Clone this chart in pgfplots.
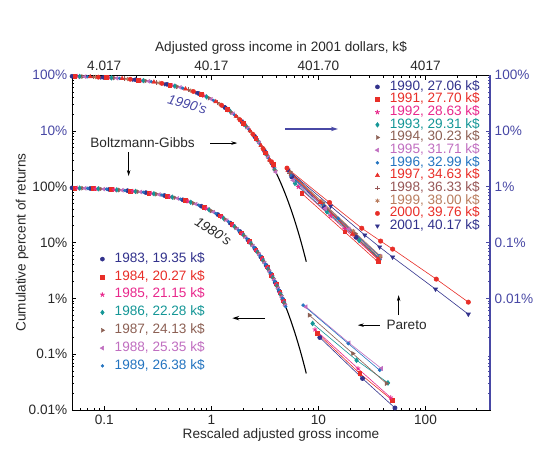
\documentclass[border=0pt]{standalone}
\usepackage{fontspec}
\setmainfont{Liberation Sans}
\usepackage{pgfplots}
\pgfplotsset{compat=1.18}
\usetikzlibrary{arrows.meta}
\definecolor{axblue}{RGB}{72,72,165}
\definecolor{cnavy}{RGB}{50,50,140}
\definecolor{cred}{RGB}{232,46,40}
\definecolor{cmag}{RGB}{232,40,140}
\definecolor{cteal}{RGB}{20,150,150}
\definecolor{cbrown}{RGB}{140,96,84}
\definecolor{corchid}{RGB}{192,110,192}
\definecolor{cblue}{RGB}{36,116,192}
\definecolor{cbrownb}{RGB}{150,86,86}
\definecolor{ctan}{RGB}{185,125,95}
\definecolor{ctext}{RGB}{40,40,40}
\pgfplotsset{
  s1990/.style={color=cnavy, mark=*, mark size=2.1pt},
  s1991/.style={color=cred, mark=square*, mark size=1.9pt},
  s1992/.style={color=cmag, mark=star, mark size=2.4pt, mark options={line width=0.9pt}},
  s1993/.style={color=cteal, mark=diamond*, mark size=2.4pt},
  s1994/.style={color=cbrown, mark=triangle*, mark size=2.3pt, mark options={rotate=-90}},
  s1995/.style={color=corchid, mark=triangle*, mark size=2.3pt, mark options={rotate=90}},
  s1996/.style={color=cblue, mark=*, mark size=1.5pt},
  s1997/.style={color=cred, mark=triangle*, mark size=2.4pt},
  s1998/.style={color=cbrownb, mark=+, mark size=2.4pt, mark options={line width=0.9pt}},
  s1999/.style={color=ctan, mark=asterisk, mark size=2.2pt, mark options={line width=0.8pt}},
  s2000/.style={color=cred, mark=*, mark size=2.2pt},
  s2001/.style={color=cnavy, mark=triangle*, mark size=2.3pt, mark options={rotate=180}},
  bgpts/.style={only marks, forget plot},
  tailpts/.style={line width=0.6pt, forget plot},
}
\begin{document}
\fontsize{13.6}{16}\selectfont
\begin{tikzpicture}
\useasboundingbox (0,0) rectangle (537pt,448pt);
% ---------------- lower axis: 1980s ----------------
\begin{axis}[
  at={(72pt,38pt)}, anchor=south west,
  width=418pt, height=335pt, scale only axis,
  xmode=log, ymode=log,
  xmin=0.05, xmax=400, ymin=1e-4, ymax=100,
  tick align=inside,
  major tick length=4.5pt, minor tick length=2.5pt,
  xtick={0.1,1,10,100},
  minor xtick={0.06,0.07,0.08,0.09,0.2,0.3,0.4,0.5,0.6,0.7,0.8,0.9,2,3,4,5,6,7,8,9,20,30,40,50,60,70,80,90,200,300},
  minor ytick={2e-4,3e-4,4e-4,5e-4,6e-4,7e-4,8e-4,9e-4,2e-3,3e-3,4e-3,5e-3,6e-3,7e-3,8e-3,9e-3,0.02,0.03,0.04,0.05,0.06,0.07,0.08,0.09,0.2,0.3,0.4,0.5,0.6,0.7,0.8,0.9,2,3,4,5,6,7,8,9,20,30,40,50,60,70,80,90},
  legend cell align=left,
  tick pos=left,
  axis line style={line width=0.9pt},
  xticklabels={0.1,1,10,100},
  ytick={1e-4,1e-3,1e-2,0.1,1,10,100},
  yticklabels={0.01\%,0.1\%,1\%,10\%,100\%,\textcolor{axblue}{10\%},\textcolor{axblue}{100\%}},
  ticklabel style={ctext},
  tick style={black, line width=0.6pt},
  xlabel={Rescaled adjusted gross income},
  ylabel={Cumulative percent of returns},
  xlabel style={ctext, at={(axis description cs:0.5,-0.075)}, anchor=center},
  ylabel style={ctext, at={(axis description cs:-0.1196,0.5)}, anchor=center},
  legend style={draw=none, fill=none, at={(0.0668,0.47)}, anchor=north west,
    inner sep=0pt, row sep=5.15pt, column sep=9pt, nodes={inner sep=1pt, text height=8.6pt, text depth=2.05pt}},
]
\addlegendimage{s1990, only marks}\addlegendentry{\textcolor{cnavy}{1983, 19.35 k\$}}
\addlegendimage{s1991, only marks}\addlegendentry{\textcolor{cred}{1984, 20.27 k\$}}
\addlegendimage{s1992, only marks}\addlegendentry{\textcolor{cmag}{1985, 21.15 k\$}}
\addlegendimage{s1993, only marks}\addlegendentry{\textcolor{cteal}{1986, 22.28 k\$}}
\addlegendimage{s1994, only marks}\addlegendentry{\textcolor{cbrown}{1987, 24.13 k\$}}
\addlegendimage{s1995, only marks}\addlegendentry{\textcolor{corchid}{1988, 25.35 k\$}}
\addlegendimage{s1996, only marks}\addlegendentry{\textcolor{cblue}{1989, 26.38 k\$}}
% Boltzmann-Gibbs part
\addplot[s1990, bgpts] coordinates {(0.05,0.9512)(0.074,0.9287)(0.111,0.8949)(0.165,0.8479)(0.245,0.7827)(0.365,0.6942)(0.542,0.5816)(0.806,0.4466)(1.15,0.3166)(1.5,0.2231)(1.85,0.1572)(2.2,0.1108)(2.55,0.07808)(2.9,0.05502)(3.25,0.03877)(3.6,0.02732)(3.95,0.01925)(4.3,0.01357)(4.65,0.009562)};
\addplot[s1991, bgpts] coordinates {(0.053,0.9484)(0.079,0.9240)(0.117,0.8896)(0.175,0.8395)(0.26,0.7711)(0.386,0.6798)(0.574,0.5633)(0.853,0.4261)(1.2,0.3012)(1.55,0.2122)(1.9,0.1496)(2.25,0.1054)(2.6,0.07427)(2.95,0.05234)(3.3,0.03688)(3.65,0.02599)(4.0,0.01832)(4.35,0.01291)(4.7,0.009095)};
\addplot[s1992, bgpts] coordinates {(0.056,0.9455)(0.083,0.9204)(0.124,0.8834)(0.185,0.8311)(0.275,0.7596)(0.409,0.6643)(0.607,0.5450)(0.903,0.4054)(1.25,0.2865)(1.6,0.2019)(1.95,0.1423)(2.3,0.1003)(2.65,0.07065)(3.0,0.04979)(3.35,0.03508)(3.7,0.02472)(4.05,0.01742)(4.4,0.01228)(4.75,0.008652)};
\addplot[s1993, bgpts] coordinates {(0.059,0.9427)(0.088,0.9158)(0.131,0.8772)(0.196,0.8220)(0.291,0.7475)(0.432,0.6492)(0.643,0.5257)(0.955,0.3848)(1.3,0.2725)(1.65,0.1920)(2.0,0.1353)(2.35,0.09537)(2.7,0.06721)(3.05,0.04736)(3.4,0.03337)(3.75,0.02352)(4.1,0.01657)(4.45,0.01168)(4.8,0.00823)};
\addplot[s1994, bgpts] coordinates {(0.063,0.9389)(0.093,0.9112)(0.139,0.8702)(0.207,0.8130)(0.308,0.7349)(0.457,0.6332)(0.68,0.5066)(1.0,0.3679)(1.35,0.2592)(1.7,0.1827)(2.05,0.1287)(2.4,0.09072)(2.75,0.06393)(3.1,0.04505)(3.45,0.03175)(3.8,0.02237)(4.15,0.01576)(4.5,0.01111)(4.85,0.007828)};
\addplot[s1995, bgpts] coordinates {(0.066,0.9361)(0.099,0.9057)(0.147,0.8633)(0.219,0.8033)(0.326,0.7218)(0.484,0.6163)(0.72,0.4868)(1.05,0.3499)(1.4,0.2466)(1.75,0.1738)(2.1,0.1225)(2.45,0.08629)(2.8,0.06081)(3.15,0.04285)(3.5,0.03020)(3.85,0.02128)(4.2,0.01500)(4.55,0.01057)(4.9,0.007447)};
\addplot[s1996, bgpts] coordinates {(0.07,0.9324)(0.105,0.9003)(0.156,0.8556)(0.232,0.7929)(0.345,0.7082)(0.512,0.5993)(0.762,0.4667)(1.1,0.3329)(1.45,0.2346)(1.8,0.1653)(2.15,0.1165)(2.5,0.08208)(2.85,0.05784)(3.2,0.04076)(3.55,0.02872)(3.9,0.02024)(4.25,0.01426)(4.6,0.01005)(4.95,0.007083)};
% Pareto tails
\addplot[s1990, tailpts] coordinates {(10.3,1.99e-3)(25.8,3.67e-4)(51.8,1.09e-4)};
\addplot[s1991, tailpts] coordinates {(9.84,2.35e-3)(24.3,4.51e-4)(48.9,1.50e-4)};
\addplot[s1992, tailpts] coordinates {(9.28,2.77e-3)(23.4,5.54e-4)(47.3,1.67e-4)};
\addplot[s1993, tailpts] coordinates {(8.83,3.55e-3)(22.7,7.8e-4)(44.6,3.06e-4)};
\addplot[s1994, tailpts] coordinates {(8.21,5.0e-3)(20.9,1.03e-3)(43.1,2.99e-4)};
\addplot[s1995, tailpts] coordinates {(7.65,7.05e-3)(19.3,1.59e-3)(38.7,5.54e-4)};
\addplot[s1996, tailpts] coordinates {(7.2,7.55e-3)(19.0,1.55e-3)(37.3,5.16e-4)};
% exponential curve
\addplot[black, line width=1.1pt, no marks, forget plot] coordinates {(0.05,0.9512)(0.1,0.9048)(0.15,0.8607)(0.2,0.8187)(0.3,0.7408)(0.4,0.6703)(0.5,0.6065)(0.6,0.5488)(0.7,0.4966)(0.8,0.4493)(0.9,0.4066)(1.0,0.3679)(1.2,0.3012)(1.4,0.2466)(1.6,0.2019)(1.8,0.1653)(2.0,0.1353)(2.25,0.1054)(2.5,0.08208)(2.75,0.06393)(3.0,0.04979)(3.25,0.03877)(3.5,0.03020)(3.75,0.02352)(4.0,0.01832)(4.25,0.01426)(4.5,0.01111)(4.75,0.008652)(5.0,0.006738)(5.25,0.005248)(5.5,0.004087)(5.75,0.003183)(6.0,0.002479)(6.25,0.001930)(6.5,0.001503)(6.75,0.001171)(7.0,0.0009119)(7.25,0.0007102)(7.5,0.0005531)(7.7,0.0004528)};
\end{axis}
% ---------------- upper axis: 1990s ----------------
\begin{axis}[
  at={(72pt,38pt)}, anchor=south west,
  width=418pt, height=335pt, scale only axis,
  xmode=log, ymode=log,
  xmin=0.05, xmax=400, ymin=1e-4, ymax=100,
  tick align=inside,
  major tick length=4.5pt, minor tick length=2.5pt,
  xtick={0.1,1,10,100},
  minor xtick={0.06,0.07,0.08,0.09,0.2,0.3,0.4,0.5,0.6,0.7,0.8,0.9,2,3,4,5,6,7,8,9,20,30,40,50,60,70,80,90,200,300},
  minor ytick={2e-4,3e-4,4e-4,5e-4,6e-4,7e-4,8e-4,9e-4,2e-3,3e-3,4e-3,5e-3,6e-3,7e-3,8e-3,9e-3,0.02,0.03,0.04,0.05,0.06,0.07,0.08,0.09,0.2,0.3,0.4,0.5,0.6,0.7,0.8,0.9,2,3,4,5,6,7,8,9,20,30,40,50,60,70,80,90},
  legend cell align=left,
  axis x line*=top, axis y line*=right,
  x axis line style={-, line width=0.9pt},
  y axis line style={-, axblue, line width=1.1pt},
  xticklabels={4.017,40.17,401.70,4017},
  xticklabel style={ctext},
  ytick={0.01,0.1,1,10,100},
  yticklabels={0.01\%,0.1\%,1\%,10\%,100\%},
  yticklabel style={axblue},
  ytick style={axblue, line width=0.6pt},
  xtick style={black, line width=0.6pt},
  xlabel={Adjusted gross income in 2001 dollars, k\$},
  xlabel style={ctext, at={(axis description cs:0.5,1.081)}, anchor=center},
  legend style={draw=none, fill=none, at={(0.7245,0.984)}, anchor=north west,
    inner sep=0pt, row sep=0pt, column sep=9pt, nodes={inner sep=1pt, text height=8.6pt, text depth=2.05pt}},
]
\addlegendimage{s1990, only marks}\addlegendentry{\textcolor{cnavy}{1990, 27.06 k\$}}
\addlegendimage{s1991, only marks}\addlegendentry{\textcolor{cred}{1991, 27.70 k\$}}
\addlegendimage{s1992, only marks}\addlegendentry{\textcolor{cmag}{1992, 28.63 k\$}}
\addlegendimage{s1993, only marks}\addlegendentry{\textcolor{cteal}{1993, 29.31 k\$}}
\addlegendimage{s1994, only marks}\addlegendentry{\textcolor{cbrown}{1994, 30.23 k\$}}
\addlegendimage{s1995, only marks}\addlegendentry{\textcolor{corchid}{1995, 31.71 k\$}}
\addlegendimage{s1996, only marks}\addlegendentry{\textcolor{cblue}{1996, 32.99 k\$}}
\addlegendimage{s1997, only marks}\addlegendentry{\textcolor{cred}{1997, 34.63 k\$}}
\addlegendimage{s1998, only marks}\addlegendentry{\textcolor{cbrownb}{1998, 36.33 k\$}}
\addlegendimage{s1999, only marks}\addlegendentry{\textcolor{ctan}{1999, 38.00 k\$}}
\addlegendimage{s2000, only marks}\addlegendentry{\textcolor{cred}{2000, 39.76 k\$}}
\addlegendimage{s2001, only marks}\addlegendentry{\textcolor{cnavy}{2001, 40.17 k\$}}
% Boltzmann-Gibbs part (values x100)
\addplot[s1990, bgpts] coordinates {(0.05,95.12)(0.099,90.57)(0.196,82.20)(0.386,67.98)(0.762,46.67)(1.35,25.92)(1.95,14.23)(2.55,7.808)(3.15,4.285)(3.75,2.55)};
\addplot[s1992, bgpts] coordinates {(0.056,94.55)(0.111,89.49)(0.219,80.33)(0.432,64.92)(0.853,42.61)(1.45,23.46)(2.05,12.87)(2.65,7.065)(3.25,3.877)(3.85,2.128)};
\addplot[s1993, bgpts] coordinates {(0.059,94.27)(0.117,88.96)(0.232,79.29)(0.457,63.32)(0.903,40.54)(1.5,22.31)(2.1,12.25)(2.7,6.721)(3.3,3.688)(3.9,2.024)};
\addplot[s1994, bgpts] coordinates {(0.063,93.89)(0.124,88.34)(0.245,78.27)(0.484,61.63)(0.955,38.48)(1.55,21.22)(2.15,11.65)(2.75,6.393)(3.35,3.508)(3.95,1.925)};
\addplot[s1995, bgpts] coordinates {(0.066,93.61)(0.131,87.72)(0.26,77.11)(0.512,59.93)(1.0,36.79)(1.6,20.19)(2.2,11.08)(2.8,6.081)(3.4,3.337)(4.0,1.832)};
\addplot[s1996, bgpts] coordinates {(0.07,93.24)(0.139,87.02)(0.275,75.96)(0.542,58.16)(1.05,34.99)(1.65,19.20)(2.25,10.54)(2.85,5.784)(3.45,3.175)};
\addplot[s1998, bgpts] coordinates {(0.079,92.40)(0.156,85.56)(0.308,73.49)(0.607,54.50)(1.15,31.66)(1.75,17.38)(2.35,9.537)(2.95,5.234)(3.55,2.872)};
\addplot[s1999, bgpts] coordinates {(0.083,92.04)(0.165,84.79)(0.326,72.18)(0.643,52.57)(1.2,30.12)(1.8,16.53)(2.4,9.072)(3.0,4.979)(3.6,2.732)};
\addplot[s2001, bgpts] coordinates {(0.093,91.12)(0.185,83.11)(0.365,69.42)(0.72,48.68)(1.3,27.25)(1.9,14.96)(2.5,8.208)(3.1,4.505)(3.7,2.472)};
\addplot[s1991, bgpts] coordinates {(0.053,94.84)(0.105,90.03)(0.207,81.30)(0.409,66.43)(0.806,44.66)(1.4,24.66)(2.0,13.53)(2.6,7.427)(3.2,4.076)(3.8,2.5)};
\addplot[s1997, bgpts] coordinates {(0.074,92.87)(0.147,86.33)(0.291,74.75)(0.574,56.33)(1.1,33.29)(1.7,18.27)(2.3,10.03)(2.9,5.502)(3.5,3.020)};
\addplot[s2000, bgpts] coordinates {(0.088,91.58)(0.175,83.95)(0.345,70.82)(0.68,50.66)(1.25,28.65)(1.85,15.72)(2.45,8.629)(3.05,4.736)(3.65,2.8)};
% Pareto tails
\addplot[s1990, tailpts] coordinates {(5.63,1.50)(11.3,0.428)(22.5,0.124)(37,0.0506)};
\addplot[s1992, tailpts] coordinates {(6.49,0.99)(13,0.296)(17.6,0.175)(36.5,0.049)};
\addplot[s1993, tailpts] coordinates {(6.04,1.15)(12,0.355)(24,0.109)(37,0.052)};
\addplot[s1994, tailpts] coordinates {(5.43,1.85)(11,0.512)(22,0.145)(37.5,0.055)};
\addplot[s1995, tailpts] coordinates {(5.8,1.3)(11.6,0.408)(19.3,0.174)(38,0.056)};
\addplot[s1996, tailpts] coordinates {(5.5,1.6)(11,0.479)(15.3,0.270)(37,0.058)};
\addplot[s1998, tailpts] coordinates {(5.4,1.75)(10.8,0.497)(21.6,0.141)(37,0.053)};
\addplot[s1999, tailpts] coordinates {(5.3,1.9)(10.6,0.553)(21.2,0.161)(38,0.057)};
\addplot[s1991, tailpts] coordinates {(6.98,0.76)(17.6,0.155)(36,0.045)};
\addplot[s1997, tailpts] coordinates {(5.2,1.95)(10.4,0.525)(20.8,0.141)(36,0.05)};
\addplot[s2001, tailpts] coordinates {(5.2,1.98)(13,0.448)(27.1,0.136)(37.3,0.083)(49.3,0.0547)(124,0.0146)(251,0.0052)};
\addplot[s2000, tailpts] coordinates {(5.09,2.15)(12.7,0.52)(25.4,0.18)(38.1,0.106)(49.3,0.0762)(126,0.0221)(251,0.00855)};
% exponential curve x100
\addplot[black, line width=1.1pt, no marks, forget plot] coordinates {(0.05,95.12)(0.1,90.48)(0.15,86.07)(0.2,81.87)(0.3,74.08)(0.4,67.03)(0.5,60.65)(0.6,54.88)(0.7,49.66)(0.8,44.93)(0.9,40.66)(1.0,36.79)(1.2,30.12)(1.4,24.66)(1.6,20.19)(1.8,16.53)(2.0,13.53)(2.25,10.54)(2.5,8.208)(2.75,6.393)(3.0,4.979)(3.25,3.877)(3.5,3.020)(3.75,2.352)(4.0,1.832)(4.25,1.426)(4.5,1.111)(4.75,0.8652)(5.0,0.6738)(5.25,0.5248)(5.5,0.4087)(5.75,0.3183)(6.0,0.2479)(6.25,0.1930)(6.5,0.1503)(6.75,0.1171)(7.0,0.09119)(7.25,0.07102)(7.5,0.05531)(7.7,0.04528)};
% annotations
\node[font=\itshape, color=axblue, rotate=-16] at (axis cs:0.598,30.2) {1990's};
\node[font=\itshape, color=ctext, rotate=-32] at (axis cs:1.04,0.160) {1980's};
\node[color=ctext] at (axis cs:0.228,6.04) {Boltzmann-Gibbs};
\draw[-{Stealth[length=6pt,width=3.5pt]}, line width=0.6pt] (axis cs:0.98,6.04) -- (axis cs:1.746,6.04);
\draw[-{Stealth[length=6pt,width=3.5pt]}, line width=0.6pt] (axis cs:0.169,4.17) -- (axis cs:0.169,1.55);
\node[color=ctext] at (axis cs:66.6,3.31e-3) {Pareto};
\draw[-{Stealth[length=6pt,width=3.5pt]}, line width=0.6pt] (axis cs:37.3,3.31e-3) -- (axis cs:23.3,3.31e-3);
\draw[-{Stealth[length=6pt,width=3.5pt]}, line width=0.6pt] (axis cs:56.1,5.0e-3) -- (axis cs:56.1,0.0114);
\draw[-{Stealth[length=7pt,width=4.5pt]}, axblue, line width=1.3pt] (axis cs:4.88,10.8) -- (axis cs:15.2,10.8);
\draw[-{Stealth[length=7pt,width=4.5pt]}, black, line width=1.1pt] (axis cs:3.18,4.42e-3) -- (axis cs:1.57,4.42e-3);
\end{axis}
\end{tikzpicture}
\end{document}
